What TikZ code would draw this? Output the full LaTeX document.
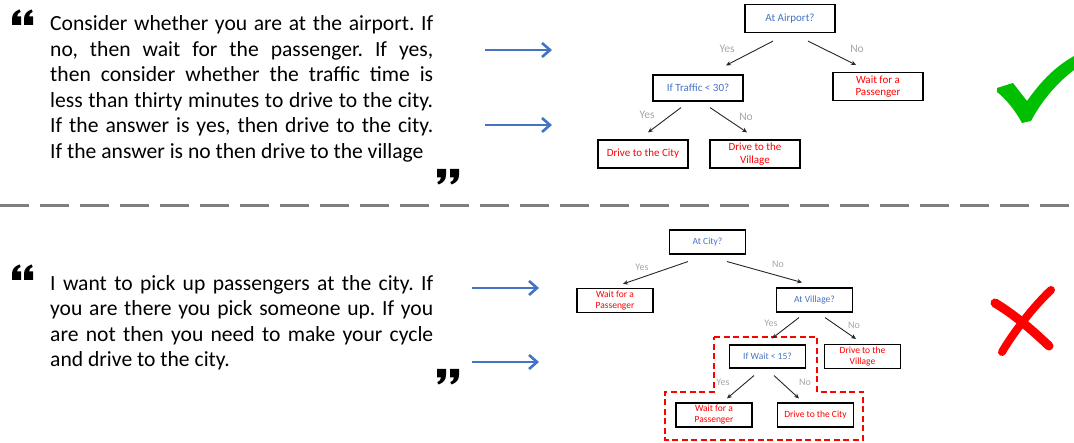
\documentclass[tikz,border=0pt]{standalone}
\usepackage{fontspec}
\setmainfont{Carlito}
\usetikzlibrary{arrows.meta}
\definecolor{qblue}{RGB}{68,114,196}
\definecolor{ared}{RGB}{255,0,0}
\definecolor{lgray}{RGB}{166,166,166}
\definecolor{sepgray}{RGB}{127,127,127}
\definecolor{okgreen}{RGB}{0,190,0}

\begin{document}
\begin{tikzpicture}[x=1pt,y=1pt,
    box/.style={draw,line width=1.2pt,inner sep=0pt,align=center,minimum width=90pt,minimum height=28pt,font=\fontsize{11}{12.5}\selectfont},
    sbox/.style={box,line width=1.1pt,minimum width=76pt,minimum height=24pt,font=\fontsize{9.5}{11}\selectfont},
    ask/.style={text=qblue},
    act/.style={text=ared},
    lab/.style={text=lgray,inner sep=0pt,font=\fontsize{11.5}{13}\selectfont},
    slab/.style={lab,font=\fontsize{10}{12}\selectfont},
    tr/.style={-{Stealth[length=5pt,width=4.5pt]},line width=0.9pt,black!85},
    bl/.style={-{Straight Barb[length=8pt,width=14pt]},line width=2.6pt,qblue},
    para/.style={anchor=north west,inner sep=0pt,text width=383pt,align=justify,font=\fontsize{21.6}{25.5}\selectfont\frenchspacing},
    quo/.pic={\fill(0,0)--(9,0)--(9,-6)..controls(9,-11)and(6,-14)..(1.5,-15.5)--(0.3,-13.2)..controls(2.8,-12.2)and(3.8,-10.5)..(4,-8.5)--(0,-8.5)--cycle;}]
    \useasboundingbox(0,0)rectangle(1074,-443);

    % first story
    \pic[rotate=180]at(21,-25){quo};\pic[rotate=180]at(33,-25){quo};
    \node[para](t1)at(50,-15.5){Consider whether you are at the airport. If\linebreak no, then wait for the passenger. If yes,\linebreak then consider whether the traffic time is\linebreak less than thirty minutes to drive to the city.\linebreak If the answer is yes, then drive to the city.\linebreak If the answer is no then drive to the village};
    \pic at(437,-169){quo};\pic at(450,-169){quo};
    \coordinate(b1s)at(485,-50);\coordinate(b1e)at(552,-50);
    \coordinate(b2s)at(485,-125);\coordinate(b2e)at(552,-125);
    \draw[bl](b1s)--(b1e);
    \draw[bl](b2s)--(b2e);

    % good tree
    \node[box,ask](air)at(790,-18.5){At Airport?};
    \node[box,ask,minimum height=26pt](traf)at(698,-88){If Traffic < 30?};
    \node[box,act](wait1)at(878,-86.5){Wait for a\\Passenger};
    \node[box,act](city1)at(643,-154){Drive to the City};
    \node[box,act](vill1)at(755,-154){Drive to the\\Village};
    \draw[tr]([xshift=-17pt,yshift=-8pt]air.south)--([xshift=28pt,yshift=9pt]traf.north);
    \draw[tr]([xshift=18pt,yshift=-8pt]air.south)--([xshift=-22pt,yshift=7pt]wait1.north);
    \draw[tr]([xshift=-17pt,yshift=-6pt]traf.south)--([xshift=5pt,yshift=7pt]city1.north);
    \draw[tr]([xshift=12pt,yshift=-6pt]traf.south)--([xshift=-8pt,yshift=7pt]vill1.north);
    \node[lab](y1)at(727,-49){Yes};
    \node[lab](n1)at(857,-49){No};
    \node[lab](y2)at(647,-115){Yes};
    \node[lab](n2)at(746,-117){No};

    % tick
    \fill[okgreen](997,-88)--(1013,-83)--(1027,-101)..controls(1042,-80)and(1055,-67)..(1074,-56)--(1074,-70)..controls(1058,-82)and(1042,-100)..(1031,-121)--(1022,-123)..controls(1015,-110)and(1005,-98)..(997,-92)--cycle;

    % divider
    \draw[sepgray,line width=3pt,dash pattern=on 29pt off 11pt](0,-206)--(1074,-206);

    % second story
    \pic[rotate=180]at(21,-280){quo};\pic[rotate=180]at(33,-280){quo};
    \node[para](t2)at(50,-275){I want to pick up passengers at the city. If\linebreak you are there you pick someone up. If you\linebreak are not then you need to make your cycle\linebreak and drive to the city.};
    \pic at(437,-369){quo};\pic at(450,-369){quo};
    \coordinate(b3s)at(472,-288);\coordinate(b3e)at(539,-288);
    \coordinate(b4s)at(472,-362);\coordinate(b4e)at(539,-362);
    \draw[bl](b3s)--(b3e);
    \draw[bl](b4s)--(b4e);

    % bad tree
    \draw[draw=ared,line width=1.3pt,dash pattern=on 6pt off 3.5pt](714,-337)--(817,-337)--(817,-392)--(863,-392)--(863,-440)--(665,-440)--(665,-392)--(714,-392)--cycle;
    \node[sbox,ask](acity)at(707.5,-242){At City?};
    \node[sbox,act](wait2)at(615,-300.5){Wait for a\\Passenger};
    \node[sbox,ask](avill)at(814.5,-300){At Village?};
    \node[sbox,ask,minimum height=23pt](iwait)at(767.5,-356.5){If Wait < 15?};
    \node[sbox,act](vill2)at(862.5,-356.5){Drive to the\\Village};
    \node[sbox,act](wait3)at(714,-415){Wait for a\\Passenger};
    \node[sbox,act](city2)at(815.5,-415){Drive to the City};
    \draw[tr]([xshift=-19.5pt,yshift=-7pt]acity.south)--([xshift=8pt,yshift=4pt]wait2.north);
    \draw[tr]([xshift=19.5pt,yshift=-7pt]acity.south)--([xshift=-12.5pt,yshift=5pt]avill.north);
    \draw[tr]([xshift=-15.5pt,yshift=-5pt]avill.south)--([xshift=4.5pt,yshift=6pt]iwait.north);
    \draw[tr]([xshift=10.5pt,yshift=-5pt]avill.south)--([xshift=-6.5pt,yshift=5pt]vill2.north);
    \draw[tr]([xshift=-13.5pt,yshift=-7pt]iwait.south)--([xshift=13pt,yshift=4pt]wait3.north);
    \draw[tr]([xshift=6.5pt,yshift=-7pt]iwait.south)--([xshift=-16.5pt,yshift=4pt]city2.north);
    \node[slab](y3)at(642,-267){Yes};
    \node[slab](n3)at(778,-264){No};
    \node[slab](y4)at(771,-323){Yes};
    \node[slab](n4)at(854,-325){No};
    \node[slab](y5)at(723,-382){Yes};
    \node[slab](n5)at(805,-382){No};

    % cross
    \draw[ared,line width=9pt,line cap=round](995,-303)..controls(1015,-315)and(1032,-330)..(1049,-346);
    \draw[ared,line width=8pt,line cap=round](1051,-290)..controls(1035,-305)and(1015,-330)..(1002,-352);
\end{tikzpicture}
\end{document}
